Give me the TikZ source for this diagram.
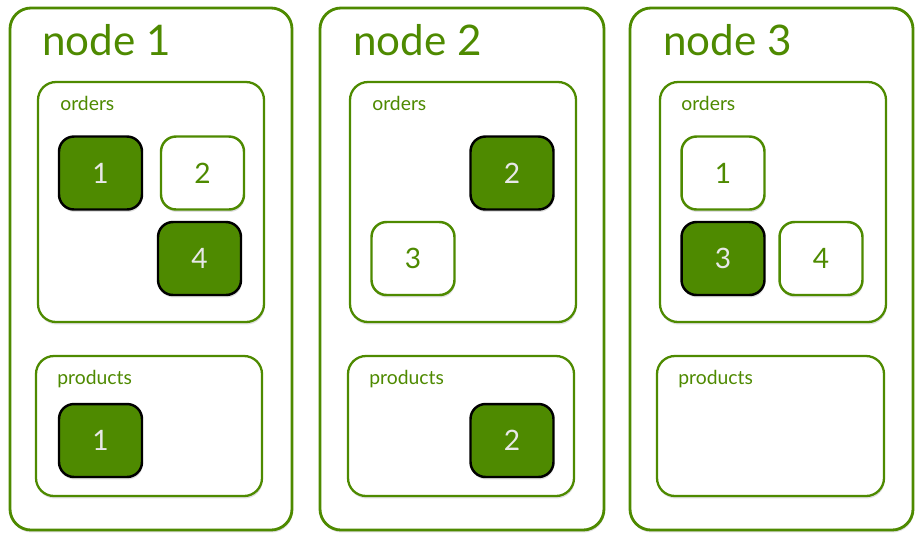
\documentclass[tikz,border=0pt]{standalone}
\usepackage{fontspec}
\setmainfont{Lato}
\usetikzlibrary{shadows}
\definecolor{leaf}{RGB}{78,138,0}
\definecolor{paper}{RGB}{232,232,232}

\begin{document}
\begin{tikzpicture}[x=0.02cm, y=-0.02cm,
      soft/.style = {drop shadow={opacity=0.25, shadow xshift=0.4pt, shadow yshift=-1.4pt}},
      panel/.style = {draw=leaf, line width=1.6pt, rounded corners=0.42cm, fill=white, soft},
      coll/.style = {draw=leaf, line width=1.3pt, rounded corners=0.36cm, fill=white, soft},
      hosttitle/.style = {anchor=base west, inner sep=0pt, text=leaf,
        font=\fontsize{24}{28}\selectfont},
      collname/.style = {anchor=base west, inner sep=0pt, text=leaf,
        font=\fontsize{11}{13}\selectfont},
      chunk/.style = {rectangle, rounded corners=0.3cm, minimum width=1.66cm,
        minimum height=1.46cm, line width=1.4pt, soft,
        font=\fontsize{16}{19}\selectfont},
      here/.style = {chunk, fill=leaf, draw=black, text=paper},
      copy/.style = {chunk, fill=white, draw=leaf, text=leaf}]
    \useasboundingbox (0,0) rectangle (922,539);

    % node 1
    \draw[panel] (10,8) rectangle (292,530);
    \node[hosttitle] (t1) at (42,55) {node 1};
    \draw[coll] (38,82) rectangle (264,322);
    \node[collname] (o1) at (60,110) {orders};
    \node[here] (o1a) at (100.5,173) {1};
    \node[copy] (o1b) at (202.5,173) {2};
    \node[here] (o1d) at (199.5,258.5) {4};
    \draw[coll] (36,356) rectangle (262,496);
    \node[collname] (p1) at (57,384) {products};
    \node[here] (p1a) at (100.5,440.5) {1};

    % node 2
    \draw[panel] (320,8) rectangle (604,530);
    \node[hosttitle] (t2) at (353,55) {node 2};
    \draw[coll] (350,82) rectangle (576,322);
    \node[collname] (o2) at (372,110) {orders};
    \node[here] (o2b) at (512,173) {2};
    \node[copy] (o2c) at (413,258.5) {3};
    \draw[coll] (348,356) rectangle (574,496);
    \node[collname] (p2) at (369,384) {products};
    \node[here] (p2b) at (512,440.5) {2};

    % node 3
    \draw[panel] (630,8) rectangle (913,530);
    \node[hosttitle] (t3) at (663,55) {node 3};
    \draw[coll] (660,82) rectangle (886,322);
    \node[collname] (o3) at (681,110) {orders};
    \node[copy] (o3a) at (723,173) {1};
    \node[here] (o3c) at (723,258.5) {3};
    \node[copy] (o3d) at (821,258.5) {4};
    \draw[coll] (657,356) rectangle (884,496);
    \node[collname] (p3) at (678,384) {products};
  \end{tikzpicture}
\end{document}
